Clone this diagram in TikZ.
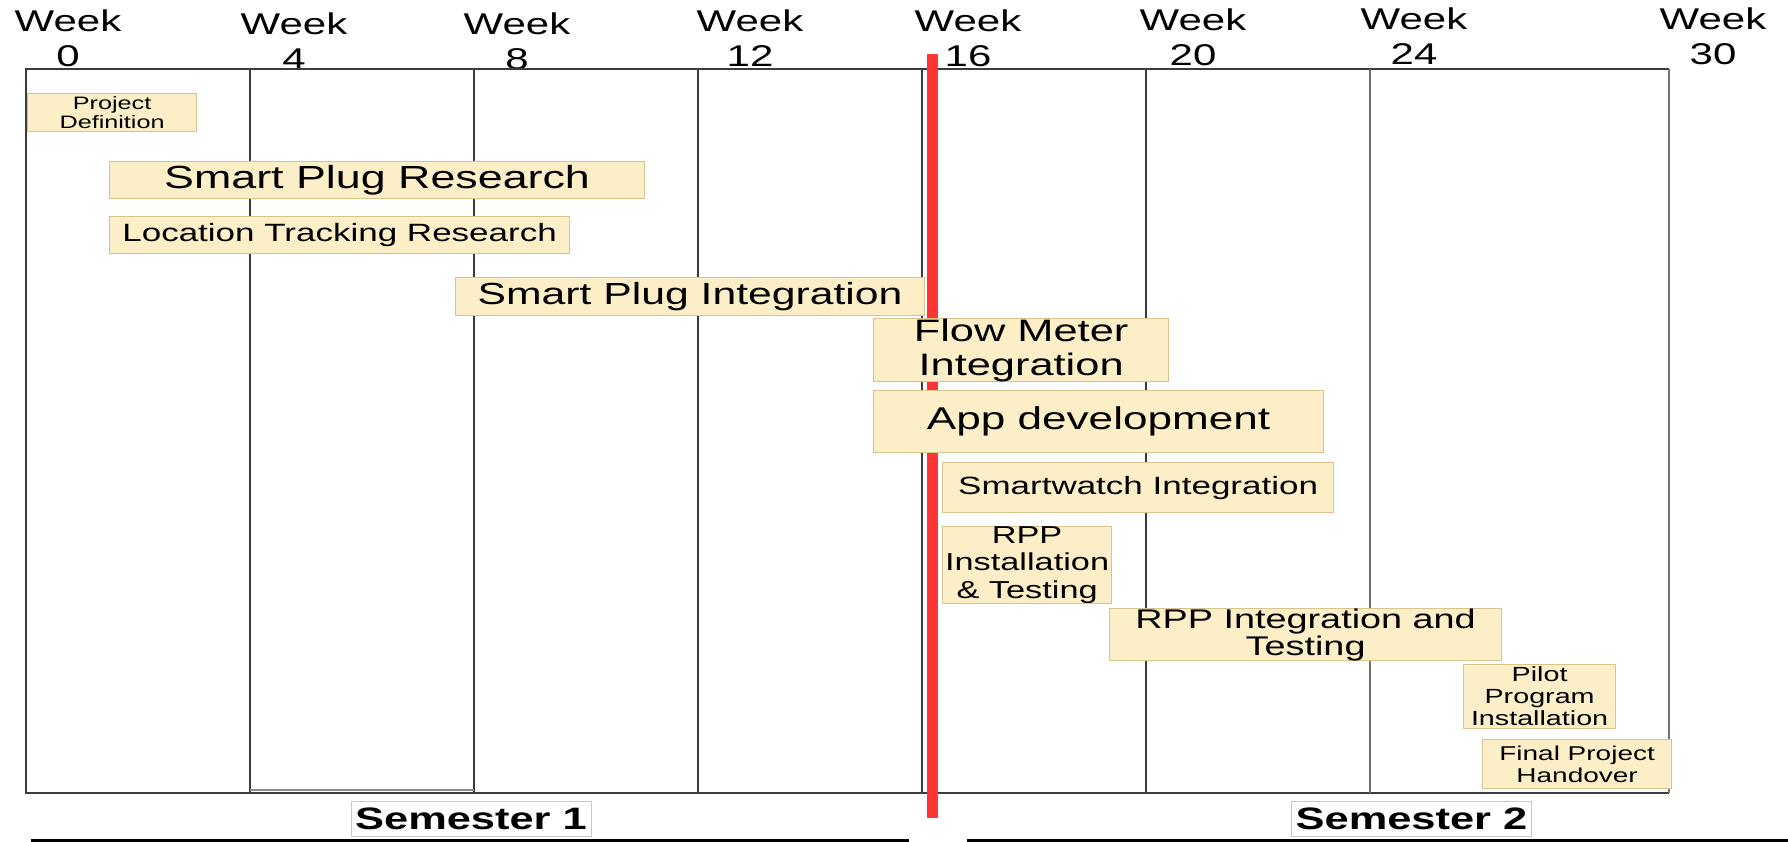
\documentclass[tikz,border=0pt]{standalone}
\usepackage{fontspec}
\setmainfont{Liberation Sans}[FakeStretch=1.4]
\definecolor{gridgray}{HTML}{3C3C3C}
\definecolor{lightgrid}{HTML}{707070}
\definecolor{taskfill}{HTML}{FCEFC7}
\definecolor{taskedge}{HTML}{D6C48C}
\definecolor{nowline}{HTML}{FF3434}
\begin{document}
\begin{tikzpicture}[x=1pt,y=-1pt,
  gridline/.style={line width=2.4pt, draw=gridgray},
  lightline/.style={line width=2.4pt, draw=lightgrid},
  task/.style={draw=taskedge, fill=taskfill, line width=1.2pt, inner sep=0pt,
    align=center, anchor=north west, text=black},
  weeklabel/.style={align=center, inner sep=0pt, font=\fontsize{30}{35}\selectfont},
  semester/.style={draw=black!22, line width=1pt, inner sep=0pt,
    minimum width=240pt, minimum height=35pt,
    font=\bfseries\fontsize{31}{31}\selectfont}
]
\useasboundingbox (0,0) rectangle (1788,841);

% week headings
\node[weeklabel] (w0)  at (68,38.5)   {Week\\0};
\node[weeklabel] (w4)  at (294,41.5)  {Week\\4};
\node[weeklabel] (w8)  at (517,41.5)  {Week\\8};
\node[weeklabel] (w12) at (750,38.5)  {Week\\12};
\node[weeklabel] (w16) at (968,38.5)  {Week\\16};
\node[weeklabel] (w20) at (1193,37.5) {Week\\20};
\node[weeklabel] (w24) at (1414,36.5) {Week\\24};
\node[weeklabel] (w30) at (1713,36.5) {Week\\30};

% chart frame and week columns
\draw[gridline] (1669,69) -- (26,69) -- (26,793) -- (1669,793);
\draw[lightline] (1669,69) -- (1669,793);
\foreach \x in {250,474,698,922,1146} \draw[gridline] (\x,69) -- (\x,793);
\draw[lightline] (1370,69) -- (1370,793);
\draw[line width=2pt, draw=black!45] (250,790) -- (474,790);

% current-week marker
\draw[line width=11pt, draw=nowline] (932,54) -- (932,818);

% tasks
\node[task, minimum width=169pt, minimum height=38pt, font=\fontsize{18}{19}\selectfont]
  (pd) at (27,93) {Project\\Definition};
\node[task, minimum width=535pt, minimum height=37pt, font=\fontsize{32}{34}\selectfont]
  (spr) at (109,161) {Smart Plug Research};
\node[task, minimum width=460pt, minimum height=37pt, font=\fontsize{25}{27}\selectfont]
  (ltr) at (109,216) {Location Tracking Research};
\node[task, minimum width=469pt, minimum height=38pt, font=\fontsize{30.5}{32}\selectfont]
  (spi) at (455,277) {Smart Plug Integration};
\node[task, minimum width=295pt, minimum height=61pt, font=\fontsize{31}{34}\selectfont]
  (fmi) at (873,318) {Flow Meter\\Integration};
\node[task, minimum width=450pt, minimum height=62pt, font=\fontsize{31.5}{33}\selectfont]
  (app) at (873,390) {App development};
\node[task, minimum width=391pt, minimum height=50pt, font=\fontsize{25}{27}\selectfont]
  (swi) at (942,462) {Smartwatch Integration};
\node[task, minimum width=169pt, minimum height=74pt, font=\fontsize{24.5}{27.5}\selectfont]
  (rppi) at (942,526) {RPP\\Installation\\\& Testing};
\node[task, minimum width=392pt, minimum height=50pt, font=\fontsize{27}{27}\selectfont]
  (rppt) at (1109,608) {RPP Integration and\\Testing};
\node[task, minimum width=152pt, minimum height=64pt, font=\fontsize{20.5}{22}\selectfont]
  (pilot) at (1463,664) {Pilot\\Program\\Installation};
\node[task, minimum width=189pt, minimum height=49pt, font=\fontsize{20}{22}\selectfont]
  (final) at (1482,739) {Final Project\\Handover};

% semesters
\node[semester] (s1) at (471,819) {Semester 1};
\node[semester] (s2) at (1411.5,819) {Semester 2};
\draw[line width=3pt] (31,840) -- (909,840);
\draw[line width=3pt] (967,840) -- (1788,840);
\end{tikzpicture}
\end{document}
